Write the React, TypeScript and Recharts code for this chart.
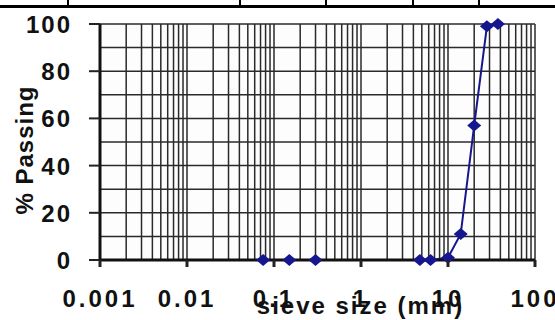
import { LineChart, Line, XAxis, YAxis, CartesianGrid } from "recharts";

// sieve openings (mm) and cumulative percent passing
const sieveSizes = [0.075, 0.15, 0.3, 4.75, 6.3, 10, 14, 20, 28, 37.5];
const percentPassing = [0, 0, 0, 0, 0, 1, 11, 57, 99, 100];

const decadeTicks = [0.001, 0.01, 0.1, 1, 10, 100];
const decadeLabels = ["0.001", "0.01", "0.1", "1", "10", "100"];
const yTicks = [0, 10, 20, 30, 40, 50, 60, 70, 80, 90, 100];
const yLabelTicks = [0, 20, 40, 60, 80, 100];

const data = sieveSizes.map((size, i) => ({ size, passing: percentPassing[i] }));

// log grid: every 1..9 multiple inside each decade
const xGridTicks = decadeTicks
  .slice(0, -1)
  .flatMap(d => [1, 2, 3, 4, 5, 6, 7, 8, 9].map(m => +(d * m).toPrecision(3)))
  .concat([100]);

const NAVY = "#16168e";
const FONT = "'Liberation Sans', Arial, sans-serif";

const XTick = ({ x, y, payload }: any) => {
  const idx = decadeTicks.findIndex(t => Math.abs(t - payload.value) < payload.value * 1e-6);
  if (idx < 0) return null;
  return (
    <g>
      <line x1={x} x2={x} y1={y} y2={y + 7} stroke="#222" strokeWidth={3} />
      <text
        x={x}
        y={y + 47}
        textAnchor="middle"
        fontFamily={FONT}
        fontWeight="bold"
        fontSize={24}
        letterSpacing={3}
        fill="#111"
      >
        {decadeLabels[idx]}
      </text>
    </g>
  );
};

const YTick = ({ x, y, payload }: any) => {
  if (!yLabelTicks.includes(payload.value)) return null;
  return (
    <g>
      <line x1={x - 11} x2={x} y1={y} y2={y} stroke="#222" strokeWidth={2} />
      <text
        x={x - 28}
        y={y + 9}
        textAnchor="end"
        fontFamily={FONT}
        fontWeight="bold"
        fontSize={24}
        letterSpacing={2}
        fill="#111"
      >
        {payload.value}
      </text>
    </g>
  );
};

const Diamond = ({ cx, cy }: any) => (
  <polygon
    points={`${cx - 7},${cy} ${cx},${cy - 6} ${cx + 7},${cy} ${cx},${cy + 6}`}
    fill={NAVY}
  />
);

const XLabel = ({ viewBox }: any) => (
  <text
    x={viewBox.x + viewBox.width / 2 + 43}
    y={viewBox.y + 54}
    textAnchor="middle"
    fontFamily={FONT}
    fontWeight="bold"
    fontSize={24}
    letterSpacing={2}
    fill="#111"
  >
    sieve size (mm)
  </text>
);

const YLabel = () => (
  <text
    x={0}
    y={0}
    transform="translate(33,150) rotate(-90)"
    textAnchor="middle"
    fontFamily={FONT}
    fontWeight="bold"
    fontSize={24}
    letterSpacing={1}
    fill="#111"
  >
    % Passing
  </text>
);

// remnant of the table ruled above the chart
const tableCols = [67, 239, 325, 412, 478];

export default function App() {
  return (
    <div style={{ position: "fixed", left: 0, top: 0, width: 555, height: 320, background: "#fff" }}>
      <div style={{ position: "absolute", left: 0, top: 5, width: 555, height: 3, background: "#000" }} />
      {tableCols.map(c => (
        <div key={c} style={{ position: "absolute", left: c, top: 0, width: 2, height: 7, background: "#000" }} />
      ))}
      <LineChart
        width={555}
        height={320}
        data={data}
        margin={{ top: 24, right: 20, left: 0, bottom: 0 }}
      >
        <CartesianGrid stroke="#2a2a2a" strokeWidth={1.5} fill="#fdfdfd" />
        <XAxis
          dataKey="size"
          type="number"
          scale="log"
          domain={[0.001, 100]}
          ticks={xGridTicks}
          interval={0}
          allowDataOverflow
          height={60}
          tickSize={0}
          tickMargin={0}
          tick={<XTick />}
          axisLine={{ stroke: "#111", strokeWidth: 3 }}
          label={<XLabel />}
        />
        <YAxis
          type="number"
          domain={[0, 100]}
          ticks={yTicks}
          interval={0}
          width={100}
          tickSize={0}
          tickMargin={0}
          tick={<YTick />}
          axisLine={{ stroke: "#111", strokeWidth: 3 }}
          label={<YLabel />}
        />
        <Line
          dataKey="passing"
          stroke={NAVY}
          strokeWidth={2}
          dot={<Diamond />}
          isAnimationActive={false}
        />
      </LineChart>
    </div>
  );
}
